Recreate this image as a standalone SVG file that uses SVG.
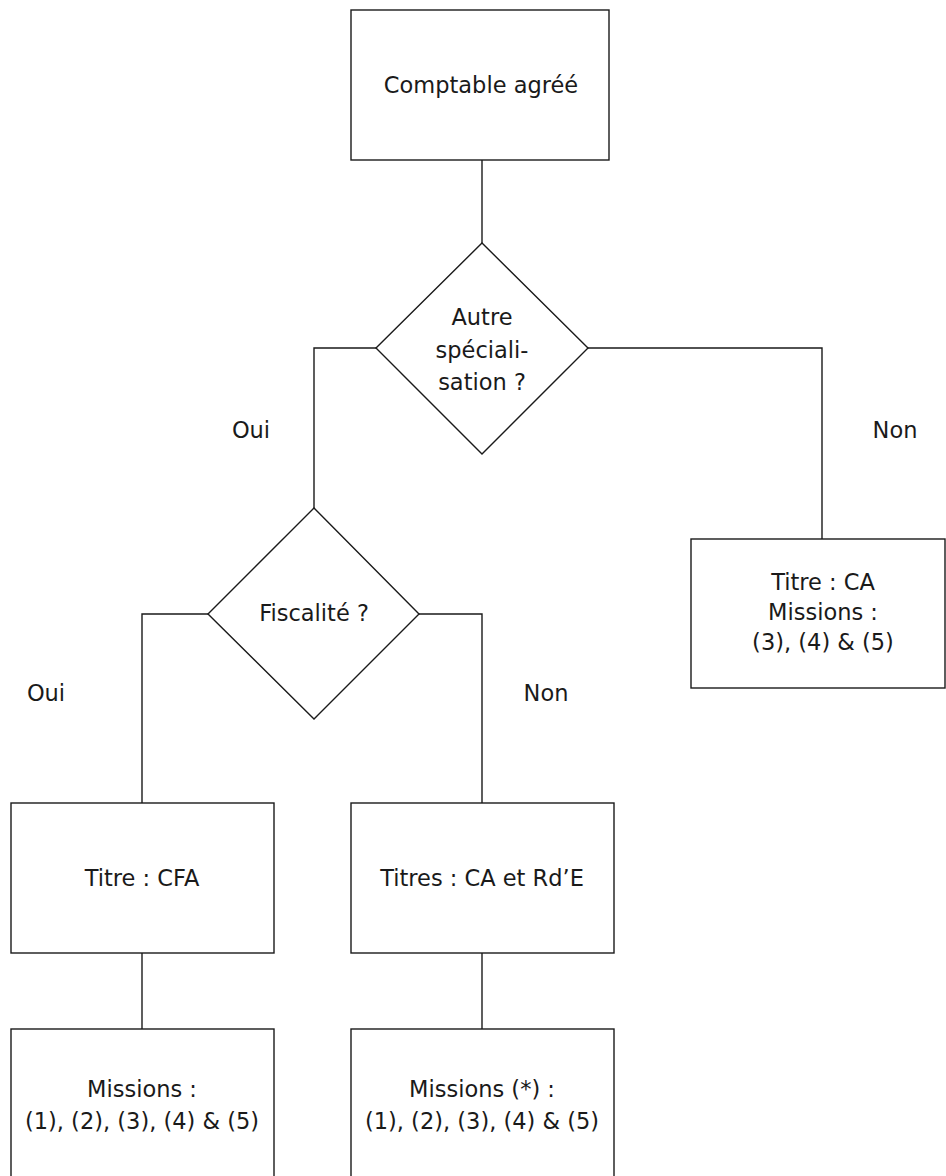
<svg xmlns="http://www.w3.org/2000/svg" width="946" height="1176" viewBox="0 0 946 1176">
<style>
.box{fill:#fff;stroke:#1a1a1a;stroke-width:1.4}
.wire{fill:none;stroke:#1a1a1a;stroke-width:1.4}
text{font-family:"DejaVu Sans","Liberation Sans",sans-serif;font-size:22.5px;fill:#1a1a1a;text-anchor:middle}
</style>
<rect width="946" height="1176" fill="#fff"/>
<g id="connectors">
<path class="wire" d="M482,160 V243"/>
<path class="wire" d="M376,348 H314 V508"/>
<path class="wire" d="M588,348 H822 V539"/>
<path class="wire" d="M208,614 H142 V803"/>
<path class="wire" d="M419,614 H482 V803"/>
<path class="wire" d="M142,953 V1029"/>
<path class="wire" d="M482,953 V1029"/>
</g>
<g id="labels">
<text x="251" y="438">Oui</text>
<text x="895" y="438">Non</text>
<text x="46" y="701">Oui</text>
<text x="546" y="701">Non</text>
</g>
<g id="n-comptable">
<rect class="box" x="351" y="10" width="258" height="150"/>
<text x="481" y="93">Comptable agréé</text>
</g>
<g id="n-autre">
<polygon class="box" points="482,243 588,348 482,454 376,348"/>
<text x="482" y="325">Autre</text>
<text x="482" y="358">spéciali-</text>
<text x="482" y="390">sation ?</text>
</g>
<g id="n-fiscalite">
<polygon class="box" points="314,508 419,614 314,719 208,614"/>
<text x="314" y="621">Fiscalité ?</text>
</g>
<g id="n-titre-ca">
<rect class="box" x="691" y="539" width="254" height="149"/>
<text x="823" y="590">Titre : CA</text>
<text x="823" y="620">Missions :</text>
<text x="823" y="650">(3), (4) &amp; (5)</text>
</g>
<g id="n-titre-cfa">
<rect class="box" x="11" y="803" width="263" height="150"/>
<text x="142" y="886">Titre : CFA</text>
</g>
<g id="n-titres-ca-rde">
<rect class="box" x="351" y="803" width="263" height="150"/>
<text x="482" y="886">Titres : CA et Rd’E</text>
</g>
<g id="n-missions-cfa">
<rect class="box" x="11" y="1029" width="263" height="160"/>
<text x="142" y="1097">Missions :</text>
<text x="142" y="1129">(1), (2), (3), (4) &amp; (5)</text>
</g>
<g id="n-missions-ca">
<rect class="box" x="351" y="1029" width="263" height="160"/>
<text x="482" y="1097">Missions (*) :</text>
<text x="482" y="1129">(1), (2), (3), (4) &amp; (5)</text>
</g>
</svg>
